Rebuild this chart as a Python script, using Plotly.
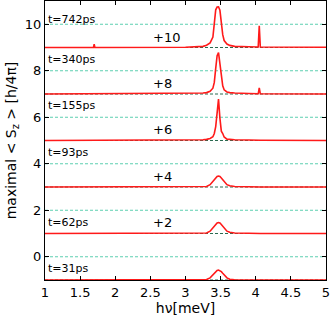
import plotly.graph_objects as go

# Common energy grid for spectra (meV)
x_grid = [1.0, 3.0, 3.25, 3.3, 3.35, 3.39, 3.41, 3.43, 3.45, 3.47, 3.49, 3.51,
          3.53, 3.55, 3.59, 3.63, 3.7, 3.9, 4.035, 4.05, 4.065, 5.0]

# Spectra amplitudes above their baselines
y31 = [0, 0, 0.004, 0.02, 0.09, 0.21, 0.29, 0.36, 0.41, 0.43, 0.41, 0.36,
       0.29, 0.21, 0.09, 0.03, 0.01, 0, 0, 0, 0, 0]
y62 = [0, 0, 0.005, 0.02, 0.1, 0.23, 0.32, 0.4, 0.45, 0.47, 0.45, 0.39,
       0.31, 0.22, 0.1, 0.05, 0.02, 0.01, 0, 0, 0, 0]
y93 = [0, 0, 0.005, 0.02, 0.1, 0.23, 0.32, 0.4, 0.45, 0.47, 0.45, 0.39,
       0.31, 0.22, 0.1, 0.05, 0.02, 0.01, 0, 0, 0, 0]
y155 = [0, 0.01, 0.03, 0.05, 0.09, 0.16, 0.3, 0.6, 1.35, 1.78, 0.95, 0.4,
        0.3, 0.15, 0.06, 0.05, 0.03, 0.02, 0.01, 0.03, 0.01, 0]
y340 = [0, 0.01, 0.04, 0.06, 0.12, 0.25, 0.5, 1.1, 1.65, 1.78, 1.35, 0.7,
        0.35, 0.18, 0.09, 0.06, 0.04, 0.02, 0.01, 0.26, 0.01, 0]
x742 = [1.0, 1.69, 1.70, 1.71] + x_grid[1:]
y742 = [0, 0, 0.14, 0] + [0.01, 0.05, 0.1, 0.2, 0.45, 1.0, 1.62, 1.74, 1.75,
                          1.6, 1.05, 0.55, 0.3, 0.15, 0.09, 0.05, 0.03,
                          0.02, 0.93, 0.02, 0.01]

offsets = [-1, 1, 3, 5, 7, 9]
series_x = [x_grid, x_grid, x_grid, x_grid, x_grid, x742]
series_y = [y31, y62, y93, y155, y340, y742]

time_labels = ["t=31ps", "t=62ps", "t=93ps", "t=155ps", "t=340ps", "t=742ps"]
time_label_y = [-0.5, 1.47, 4.5, 6.5, 8.47, 10.2]
shift_labels = ["+2", "+4", "+6", "+8", "+10"]
shift_label_y = [1.47, 3.47, 5.47, 7.47, 9.45]
shift_label_x = [2.51, 2.51, 2.51, 2.51, 2.51]
ref_levels = [0, 2, 4, 6, 8, 10]

fig = go.Figure()

# dashed reference lines at even levels
for lv in ref_levels:
    fig.add_trace(go.Scatter(x=[1, 5], y=[lv, lv], mode="lines",
                             line=dict(color="#5ccfb0", width=1, dash="3px,2px"),
                             hoverinfo="skip", showlegend=False))
# dark dashed baselines
for off in offsets:
    fig.add_trace(go.Scatter(x=[1, 5], y=[off, off], mode="lines",
                             line=dict(color="#2a6a50", width=1, dash="3px,2px"),
                             hoverinfo="skip", showlegend=False))
# spectra
for xs, ys, off in zip(series_x, series_y, offsets):
    fig.add_trace(go.Scatter(x=xs, y=[v + off for v in ys], mode="lines",
                             line=dict(color="#ff1a1a", width=1.6),
                             showlegend=False))

annotations = []
for t, ty in zip(time_labels, time_label_y):
    annotations.append(dict(x=1.01, y=ty, text=t, showarrow=False,
                            xanchor="left", yanchor="middle",
                            font=dict(size=11, color="black")))
for s, sx, sy in zip(shift_labels, shift_label_x, shift_label_y):
    annotations.append(dict(x=sx, y=sy, text=s, showarrow=False,
                            xanchor="left", yanchor="middle",
                            font=dict(size=13, color="black")))

fig.update_layout(
    width=332, height=316,
    margin=dict(l=45, r=6, t=1, b=36),
    paper_bgcolor="white", plot_bgcolor="white",
    font=dict(family="DejaVu Sans", size=13, color="black"),
    annotations=annotations,
    xaxis=dict(range=[1, 5], tickvals=[1, 1.5, 2, 2.5, 3, 3.5, 4, 4.5, 5],
               ticktext=["1", "1.5", "2", "2.5", "3", "3.5", "4", "4.5", "5"],
               ticks="inside", ticklen=4, tickcolor="black",
               showline=True, linecolor="black", linewidth=1, mirror="ticks",
               showgrid=False, zeroline=False, automargin=False,
               title=dict(text="hν[meV]", font=dict(size=14), standoff=2)),
    yaxis=dict(range=[-1, 11], tickvals=[0, 2, 4, 6, 8, 10],
               ticks="inside", ticklen=4, tickcolor="black",
               showline=True, linecolor="black", linewidth=1, mirror="ticks",
               showgrid=False, zeroline=False, automargin=False,
               title=dict(text="maximal < S<sub>z</sub> > [h/4π]",
                          font=dict(size=14), standoff=4)),
)

fig.write_html("out.html",
               config={"displayModeBar": False},
               post_script="document.body.style.margin='0';"
                           "document.body.style.overflow='hidden';")
